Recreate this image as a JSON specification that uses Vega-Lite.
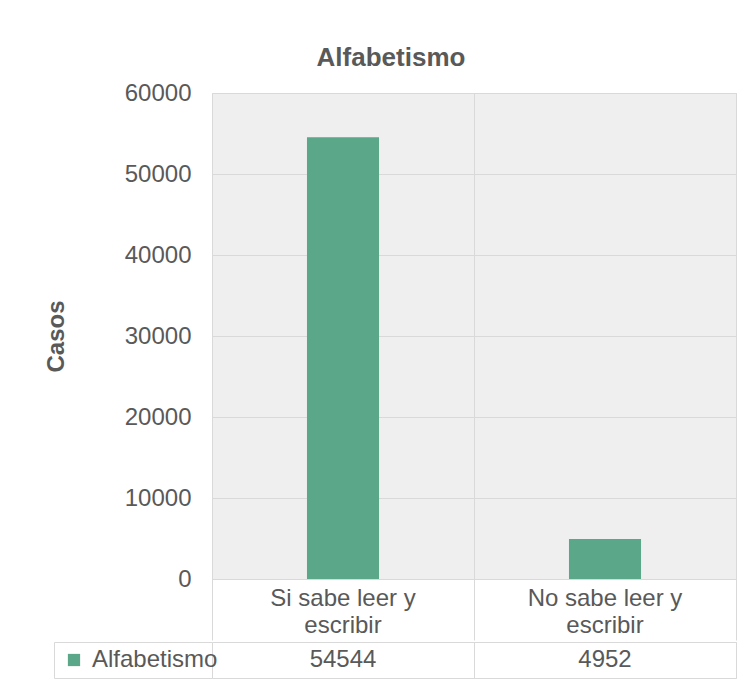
{
  "$schema": "https://vega.github.io/schema/vega-lite/v6.json",
  "background": "white",
  "autosize": {"type": "pad"},
  "padding": {"left": 43, "top": 44, "right": 0, "bottom": 0},
  "config": {
    "font": "Liberation Sans",
    "view": {"stroke": "#d9d9d9"},
    "axis": {
      "labelFont": "Liberation Sans",
      "labelColor": "#595959",
      "labelFontSize": 24,
      "titleFont": "Liberation Sans",
      "titleColor": "#595959",
      "gridColor": "#d9d9d9",
      "domainColor": "#d9d9d9",
      "tickColor": "#d9d9d9"
    },
    "legend": {"labelFont": "Liberation Sans"}
  },
  "datasets": {
    "alfabetismo": [
      {"categoria": "Si sabe leer y escribir", "casos": 54544, "serie": "Alfabetismo"},
      {"categoria": "No sabe leer y escribir", "casos": 4952, "serie": "Alfabetismo"}
    ]
  },
  "data": {"name": "alfabetismo"},
  "spacing": 0,
  "resolve": {"scale": {"color": "independent"}, "legend": {"color": "independent"}},
  "vconcat": [
    {
      "width": 524,
      "height": 486,
      "view": {"fill": "#efefef", "stroke": "#d9d9d9"},
      "title": {
        "text": "Alfabetismo",
        "fontSize": 26,
        "fontWeight": "bold",
        "color": "#595959",
        "font": "Liberation Sans",
        "anchor": "middle",
        "dx": -83,
        "offset": 10
      },
      "mark": {"type": "bar", "width": {"band": 0.275}, "color": "#5aa78a"},
      "encoding": {
        "x": {
          "field": "categoria",
          "type": "nominal",
          "sort": null,
          "scale": {"paddingInner": 0, "paddingOuter": 0},
          "axis": {
            "title": null,
            "labelAngle": 0,
            "labelExpr": "length(datum.label) > 0 ? [replace(datum.label, ' escribir', ''), 'escribir'] : ''",
            "labelLineHeight": 27,
            "labelBaseline": "top",
            "bandPosition": 1,
            "tickExtra": true,
            "tickSize": 61,
            "labelPadding": -54,
            "labelOverlap": false,
            "labelBound": false,
            "labelLimit": 300,
            "grid": true
          }
        },
        "y": {
          "field": "casos",
          "type": "quantitative",
          "scale": {"domain": [0, 60000]},
          "axis": {
            "title": "Casos",
            "titleFontSize": 24,
            "titleFontWeight": "bold",
            "titlePadding": 56,
            "values": [0, 10000, 20000, 30000, 40000, 50000, 60000],
            "format": "d",
            "ticks": false,
            "domain": false,
            "labelPadding": 21,
            "grid": true
          }
        }
      }
    },
    {
      "width": 524,
      "height": 36,
      "view": {"stroke": "#d9d9d9"},
      "encoding": {
        "x": {
          "field": "categoria",
          "type": "nominal",
          "sort": null,
          "scale": {"paddingInner": 0, "paddingOuter": 0},
          "axis": {
            "title": null,
            "labels": false,
            "ticks": true,
            "tickSize": -36,
            "tickOffset": 131,
            "domain": false,
            "grid": false
          }
        },
        "y": {
          "field": "serie",
          "type": "nominal",
          "axis": {
            "title": null,
            "labels": false,
            "domain": true,
            "offset": 158,
            "tickBand": "extent",
            "tickSize": -158
          }
        }
      },
      "layer": [
        {
          "mark": {"type": "text", "fontSize": 24, "color": "#595959", "font": "Liberation Sans"},
          "encoding": {"text": {"field": "casos", "type": "quantitative", "format": "d"}}
        },
        {
          "mark": {"type": "point", "shape": "square", "filled": true, "opacity": 0},
          "encoding": {
            "color": {
              "field": "serie",
              "type": "nominal",
              "scale": {"range": ["#5aa78a"]},
              "legend": {
                "title": null,
                "orient": "none",
                "legendX": -150,
                "legendY": 6,
                "padding": 0,
                "symbolType": "square",
                "symbolSize": 150,
                "symbolOpacity": 1,
                "symbolStrokeWidth": 0,
                "symbolFillColor": "#5aa78a",
                "labelFontSize": 24,
                "labelColor": "#595959",
                "labelOffset": 6
              }
            }
          }
        }
      ]
    }
  ]
}
